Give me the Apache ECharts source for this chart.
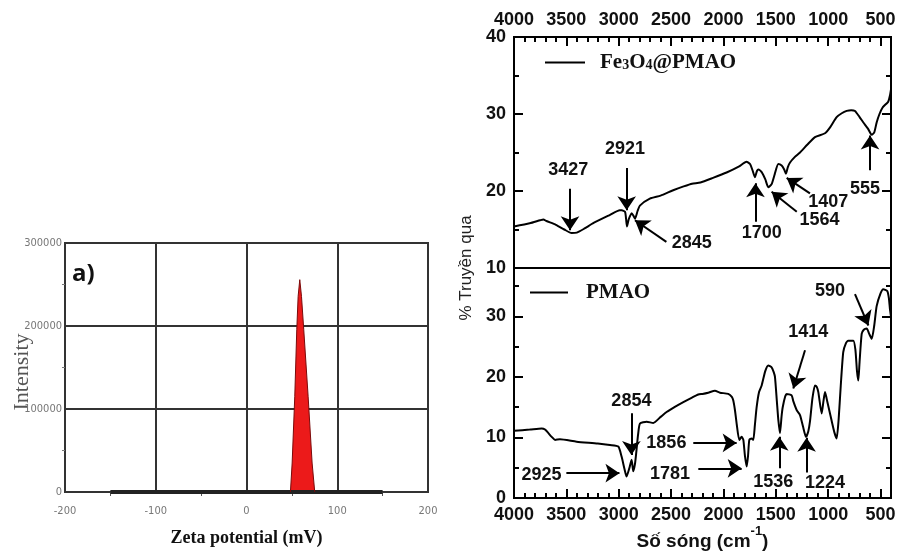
<!DOCTYPE html>
<html>
<head>
<meta charset="utf-8">
<script src="https://cdn.jsdelivr.net/npm/echarts@6/dist/echarts.min.js"></script>
<style>html,body{margin:0;padding:0;background:#fff}#main{width:902px;height:551px}</style>
</head>
<body>
<div id="main"></div>
<script>
// zeta potential distribution (left panel)
var zetaX = [48.4, 50.3, 53.2, 55.4, 56.9, 58.7, 60.6, 63.1, 67.9, 72.3, 75.2];
var zetaY = [0, 34900, 115300, 195500, 235700, 255800, 235700, 195500, 115300, 34900, 0];
var zetaBaseX = [-150, 150];
var zetaBaseY = [0, 0];

// FTIR, Fe3O4@PMAO
var topWave = [4000, 3850, 3750, 3720, 3690, 3600, 3520, 3450, 3400, 3330, 3240, 3083, 2990, 2971, 2940, 2930, 2921, 2905, 2890, 2876, 2860, 2845, 2820, 2798, 2703, 2600, 2480, 2380, 2300, 2220, 2100, 1970, 1850, 1780, 1746, 1720, 1700, 1680, 1667, 1635, 1600, 1572, 1540, 1510, 1476, 1444, 1420, 1403, 1385, 1364, 1320, 1269, 1200, 1126, 1030, 980, 919, 870, 823, 780, 744, 700, 664, 620, 584, 560, 537, 510, 480, 440, 426, 410, 400];
var topTrans = [15.4, 15.8, 16.2, 16.3, 16.1, 15.6, 15.0, 14.55, 14.6, 15.1, 15.85, 16.9, 17.5, 17.5, 17.3, 16.4, 15.4, 16.3, 16.8, 17.1, 16.8, 16.4, 17.4, 18.1, 19.0, 19.4, 20.1, 20.6, 20.95, 21.1, 21.7, 22.4, 23.2, 23.8, 23.5, 22.6, 21.8, 22.6, 22.8, 22.45, 21.5, 20.5, 20.9, 22.2, 23.5, 23.3, 22.8, 22.25, 23.1, 23.7, 24.4, 25.0, 26.0, 27.0, 27.5, 28.3, 29.6, 30.1, 30.4, 30.5, 30.4, 29.6, 28.9, 28.1, 27.3, 27.6, 28.9, 30.0, 30.85, 31.4, 31.6, 32.4, 33.2];

// FTIR, PMAO
var pmaoWave = [4000, 3850, 3736, 3704, 3640, 3608, 3561, 3402, 3200, 3084, 3004, 2972, 2945, 2925, 2899, 2877, 2861, 2845, 2835, 2815, 2797, 2733, 2670, 2600, 2543, 2460, 2383, 2300, 2240, 2200, 2145, 2081, 2033, 1954, 1920, 1906, 1890, 1874, 1849, 1826, 1810, 1795, 1778, 1765, 1753, 1731, 1715, 1700, 1683, 1660, 1635, 1600, 1572, 1540, 1520, 1508, 1490, 1476, 1460, 1445, 1434, 1410, 1396, 1349, 1333, 1300, 1269, 1240, 1212, 1190, 1174, 1150, 1126, 1110, 1094, 1062, 1045, 1030, 1008, 970, 940, 919, 900, 880, 856, 830, 808, 760, 740, 725, 712, 700, 680, 660, 632, 610, 584, 560, 537, 500, 474, 436, 420, 410, 400];
var pmaoTrans = [11.1, 11.3, 11.5, 11.3, 10.1, 9.6, 9.7, 9.3, 9.0, 8.75, 8.5, 6.8, 4.8, 3.55, 4.9, 6.3, 4.4, 5.6, 7.1, 10.5, 12.3, 12.6, 12.4, 13.4, 14.2, 15.1, 15.85, 16.6, 17.1, 17.2, 17.4, 17.7, 17.4, 17.2, 16.7, 16.1, 14.5, 12.3, 9.6, 10.1, 9.6, 7.0, 5.2, 7.0, 9.6, 9.85, 9.6, 12.0, 15.0, 17.5, 18.6, 21.0, 21.9, 21.6, 20.8, 20.0, 16.0, 12.9, 10.7, 13.5, 15.0, 16.8, 17.2, 16.96, 16.0, 14.5, 13.7, 11.8, 10.1, 11.0, 12.6, 16.5, 18.6, 18.4, 17.5, 13.95, 16.0, 17.5, 15.9, 13.0, 10.8, 9.85, 13.0, 18.5, 24.1, 25.6, 26.0, 26.0, 24.5, 21.0, 19.4, 22.5, 27.1, 27.8, 28.0, 27.2, 26.3, 28.5, 31.7, 33.8, 34.5, 34.2, 33.0, 31.2, 30.0];

var waveTicks = [4000, 3500, 3000, 2500, 2000, 1500, 1000, 500];

// peak annotations: label position, arrow start, arrow tip (data units)
var topNotes = [
  {label: '3427', at: [3481, 22.7], from: [3465, 20.3], to: [3465, 14.9]},
  {label: '2921', at: [2940, 25.4], from: [2924, 23.0], to: [2924, 17.5]},
  {label: '2845', at: [2303, 13.2], from: [2545, 13.4], to: [2845, 16.2]},
  {label: '1700', at: [1635, 14.5], from: [1694, 16.0], to: [1694, 21.0]},
  {label: '1564', at: [1082, 16.2], from: [1300, 17.3], to: [1540, 19.9]},
  {label: '1407', at: [1000, 18.6], from: [1174, 19.7], to: [1396, 21.7]},
  {label: '555', at: [648, 20.2], from: [600, 22.7], to: [600, 27.2]}
];
var pmaoNotes = [
  {label: '590', at: [982, 34.2], from: [744, 33.7], to: [616, 28.5]},
  {label: '1414', at: [1190, 27.5], from: [1221, 24.4], to: [1333, 18.1]},
  {label: '2854', at: [2879, 16.1], from: [2879, 14.0], to: [2879, 7.1]},
  {label: '2925', at: [3738, 3.8], from: [3500, 4.1], to: [2993, 4.1]},
  {label: '1856', at: [2545, 9.1], from: [2288, 9.1], to: [1874, 9.1]},
  {label: '1781', at: [2510, 4.0], from: [2240, 4.9], to: [1826, 4.9]},
  {label: '1536', at: [1524, 2.7], from: [1467, 4.9], to: [1467, 10.1]},
  {label: '1224', at: [1030, 2.5], from: [1206, 4.2], to: [1206, 9.95]}
];

function pairs(xs, ys) {
  return xs.map(function (x, i) { return [x, ys[i]]; });
}

var SANS = "'Liberation Sans', Arial, sans-serif";
var SERIF = "'Liberation Serif', 'Times New Roman', serif";
var NARROW = "'Liberation Sans Narrow', 'DejaVu Sans Condensed', sans-serif";

function tickOnly(grid, pos, min, max, interval, len, inverse) {
  return {
    type: 'value', gridIndex: grid, position: pos, min: min, max: max, interval: interval,
    inverse: !!inverse,
    axisLine: {show: true, onZero: false, lineStyle: {color: '#000', width: 2}},
    axisTick: {show: true, inside: true, length: len, lineStyle: {color: '#000', width: 2}},
    axisLabel: {show: false},
    splitLine: {show: false}
  };
}

function markers(notes) {
  return {
    markLine: {
      silent: true,
      symbol: ['none', 'arrow'],
      symbolSize: 14,
      label: {show: false},
      lineStyle: {color: '#000', width: 2, type: 'solid'},
      data: notes.map(function (n) { return [{coord: n.from}, {coord: n.to}]; })
    },
    markPoint: {
      silent: true,
      symbol: 'circle',
      symbolSize: 1,
      itemStyle: {color: 'transparent'},
      label: {show: true, position: 'inside', color: '#111', fontFamily: SANS, fontWeight: 'bold', fontSize: 18,
        formatter: function (p) { return p.name; }},
      data: notes.map(function (n) { return {name: n.label, coord: n.at}; })
    }
  };
}

var plain = function (v) { return String(v); };

var chart = echarts.init(document.getElementById('main'), null, {renderer: 'canvas'});

var topSeries = {
  name: 'Fe3O4@PMAO', type: 'line', xAxisIndex: 1, yAxisIndex: 1,
  data: pairs(topWave, topTrans), symbol: 'none', smooth: 0.2,
  lineStyle: {color: '#000', width: 2}, itemStyle: {color: '#000'}
};
Object.assign(topSeries, markers(topNotes));

var pmaoSeries = {
  name: 'PMAO', type: 'line', xAxisIndex: 3, yAxisIndex: 5,
  data: pairs(pmaoWave, pmaoTrans), symbol: 'none', smooth: 0.2,
  lineStyle: {color: '#000', width: 2}, itemStyle: {color: '#000'}
};
Object.assign(pmaoSeries, markers(pmaoNotes));

var option = {
  animation: false,
  backgroundColor: '#fff',
  grid: [
    {left: 65, right: 474, top: 243, bottom: 59, show: true, borderColor: '#333', borderWidth: 2, containLabel: false, outerBoundsMode: 'none'},
    {left: 514, right: 11, top: 37, bottom: 283, show: true, borderColor: '#000', borderWidth: 2, containLabel: false, outerBoundsMode: 'none'},
    {left: 514, right: 11, top: 268, bottom: 53, show: true, borderColor: '#000', borderWidth: 2, containLabel: false, outerBoundsMode: 'none'}
  ],
  legend: [
    {
      data: ['Fe3O4@PMAO'], left: 545, top: 52, padding: 0, itemWidth: 40, itemHeight: 2, icon: 'rect',
      selectedMode: false,
      formatter: function () { return '{b|Fe}{s|3}{b|O}{s|4}{b|@PMAO}'; },
      textStyle: {padding: [0, 0, 0, 10], rich: {
        b: {fontFamily: SERIF, fontWeight: 'bold', fontSize: 21, color: '#111', verticalAlign: 'bottom'},
        s: {fontFamily: SERIF, fontWeight: 'bold', fontSize: 14, color: '#111', verticalAlign: 'bottom', padding: [0, 0, 1, 0]}
      }}
    },
    {
      data: ['PMAO'], left: 530, top: 282, padding: 0, itemWidth: 38, itemHeight: 2, icon: 'rect',
      selectedMode: false,
      textStyle: {fontFamily: SERIF, fontWeight: 'bold', fontSize: 21, color: '#111', padding: [0, 0, 0, 13]}
    }
  ],
  xAxis: [
    {
      type: 'value', gridIndex: 0, min: -200, max: 200, interval: 100,
      name: 'Zeta potential (mV)', nameLocation: 'middle', nameGap: 37,
      nameTextStyle: {fontFamily: SERIF, fontWeight: 'bold', fontSize: 18, color: '#111'},
      axisLine: {show: false, onZero: false},
      axisTick: {show: false},
      minorTick: {show: true, splitNumber: 2, length: 4, lineStyle: {color: '#555'}},
      axisLabel: {margin: 14, fontSize: 11, color: '#777', fontFamily: NARROW},
      splitLine: {show: true, lineStyle: {color: '#333', width: 2}}
    },
    {
      type: 'value', gridIndex: 1, position: 'top', min: 400, max: 4000, inverse: true,
      axisLine: {show: true, onZero: false, lineStyle: {color: '#000', width: 2}},
      axisTick: {show: true, inside: true, length: 9, customValues: waveTicks, lineStyle: {color: '#000', width: 2}},
      axisLabel: {show: true, customValues: waveTicks, formatter: plain, margin: 8, fontFamily: SANS, fontWeight: 'bold', fontSize: 18, color: '#111'},
      splitLine: {show: false}
    },
    tickOnly(1, 'top', 400, 4000, 100, 5, true),
    {
      type: 'value', gridIndex: 2, position: 'bottom', min: 400, max: 4000, inverse: true,
      name: '{b|Số sóng (cm}{s|-1}{b|)}', nameLocation: 'middle', nameGap: 22,
      nameTextStyle: {rich: {
        b: {fontFamily: SANS, fontWeight: 'bold', fontSize: 19, color: '#111', lineHeight: 26, verticalAlign: 'bottom'},
        s: {fontFamily: SANS, fontWeight: 'bold', fontSize: 13, color: '#111', lineHeight: 14, verticalAlign: 'top'}
      }},
      axisLine: {show: true, onZero: false, lineStyle: {color: '#000', width: 2}},
      axisTick: {show: true, inside: true, length: 9, customValues: waveTicks, lineStyle: {color: '#000', width: 2}},
      axisLabel: {show: true, customValues: waveTicks, formatter: plain, margin: 8, fontFamily: SANS, fontWeight: 'bold', fontSize: 18, color: '#111'},
      splitLine: {show: false}
    },
    tickOnly(2, 'bottom', 400, 4000, 100, 5, true)
  ],
  yAxis: [
    {
      type: 'value', gridIndex: 0, min: 0, max: 300000, interval: 100000,
      axisLine: {show: false, onZero: false},
      axisTick: {show: false},
      minorTick: {show: true, splitNumber: 2, length: 3, lineStyle: {color: '#777'}},
      axisLabel: {margin: 3, fontSize: 11, color: '#777', fontFamily: NARROW, formatter: plain},
      splitLine: {show: true, lineStyle: {color: '#333', width: 2}}
    },
    {
      type: 'value', gridIndex: 1, position: 'left', min: 10, max: 40, interval: 10,
      axisLine: {show: true, onZero: false, lineStyle: {color: '#000', width: 2}},
      axisTick: {show: true, inside: true, length: 9, lineStyle: {color: '#000', width: 2}},
      axisLabel: {margin: 8, fontFamily: SANS, fontWeight: 'bold', fontSize: 18, color: '#111'},
      splitLine: {show: false}
    },
    tickOnly(1, 'left', 10, 40, 5, 5),
    tickOnly(1, 'right', 10, 40, 10, 9),
    tickOnly(1, 'right', 10, 40, 5, 5),
    {
      type: 'value', gridIndex: 2, position: 'left', min: 0, max: 38, interval: 10,
      axisLine: {show: true, onZero: false, lineStyle: {color: '#000', width: 2}},
      axisTick: {show: true, inside: true, length: 9, lineStyle: {color: '#000', width: 2}},
      axisLabel: {margin: 8, showMaxLabel: false, fontFamily: SANS, fontWeight: 'bold', fontSize: 18, color: '#111'},
      splitLine: {show: false}
    },
    tickOnly(2, 'left', 0, 38, 5, 5),
    tickOnly(2, 'right', 0, 38, 10, 9),
    tickOnly(2, 'right', 0, 38, 5, 5)
  ],
  graphic: [
    {type: 'text', left: 72, top: 262, style: {text: 'a)', fontFamily: "'Open Sans', sans-serif", fontWeight: 'bold', fontSize: 24, fill: '#111'}},
    {type: 'text', x: 22, y: 372, rotation: Math.PI / 2,
      style: {text: 'Intensity', fontFamily: SERIF, fontSize: 22, fill: '#555', align: 'center', verticalAlign: 'middle'}},
    {type: 'text', x: 466, y: 268, rotation: Math.PI / 2,
      style: {text: '% Truyền qua', fontFamily: SANS, fontSize: 17, fill: '#222', align: 'center', verticalAlign: 'middle'}}
  ],
  series: [
    {
      type: 'line', xAxisIndex: 0, yAxisIndex: 0, data: pairs(zetaBaseX, zetaBaseY), z: 3,
      symbol: 'none', lineStyle: {color: '#222', width: 4}, silent: true
    },
    {
      type: 'line', xAxisIndex: 0, yAxisIndex: 0, data: pairs(zetaX, zetaY),
      symbol: 'none', lineStyle: {color: '#7a0a0a', width: 1}, areaStyle: {color: '#ec1a1a', opacity: 1}, silent: true
    },
    topSeries,
    pmaoSeries
  ]
};

chart.setOption(option);
</script>
</body>
</html>
